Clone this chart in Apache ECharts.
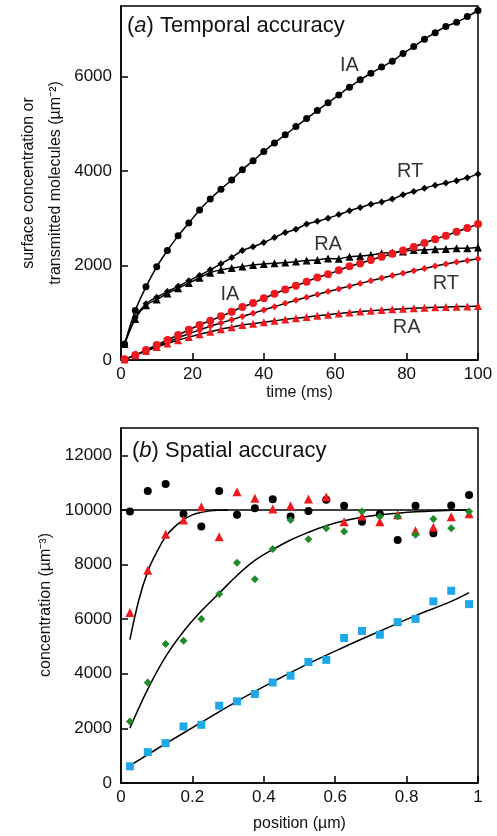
<!DOCTYPE html>
<html><head><meta charset="utf-8">
<script src="https://cdn.jsdelivr.net/npm/echarts@6/dist/echarts.min.js"></script>
<style>html,body{margin:0;padding:0;background:#fff}#c{width:497px;height:836px}</style>
</head><body><div id="c"></div>
<script>
// ---------- Panel (a): temporal accuracy ----------
const timeMs = [1,4,7,10,13,16,19,22,25,28,31,34,37,40,43,46,49,52,55,58,61,64,67,70,73,76,79,82,85,88,91,94,97,100];
const blackIA = [340,1050,1550,1975,2320,2630,2900,3180,3410,3620,3815,4030,4220,4415,4600,4770,4945,5115,5285,5450,5615,5780,5935,6075,6205,6330,6495,6640,6795,6935,7065,7155,7275,7405];
const blackRT = [340,900,1190,1330,1450,1560,1680,1790,1910,2040,2170,2320,2400,2490,2595,2700,2770,2880,2940,3005,3080,3160,3230,3300,3350,3410,3500,3570,3640,3700,3750,3800,3860,3943];
const blackRA = [340,870,1160,1280,1410,1520,1630,1740,1850,1910,1950,1979,2014,2035,2049,2064,2085,2106,2120,2150,2145,2190,2205,2226,2261,2276,2297,2332,2332,2346,2353,2367,2367,2382];
const redIA = [15,106,212,318,424,530,640,742,834,925,1020,1125,1205,1307,1405,1495,1575,1660,1750,1815,1900,1985,2045,2120,2185,2250,2320,2395,2480,2560,2635,2715,2795,2880];
const redRT = [10,100,195,290,380,470,555,635,715,785,855,920,990,1060,1130,1200,1265,1330,1390,1450,1505,1565,1620,1680,1735,1790,1840,1890,1940,1990,2035,2075,2110,2145];
const redRA = [10,100,190,275,350,420,485,545,600,650,695,740,770,800,830,860,885,910,935,960,985,1005,1025,1045,1060,1075,1085,1095,1105,1115,1125,1130,1135,1145];
const curveLabelText = ['IA','RT','RA','IA','RT','RA'];
const curveLabelT = [64,81,58,30.5,91,80];
const curveLabelV = [6230,3990,2440,1380,1630,680];
const yTicksA = [0,2000,4000,6000];
const xTicksA = [0,20,40,60,80,100];

// ---------- Panel (b): spatial accuracy ----------
const positions = [0.025,0.075,0.125,0.175,0.225,0.275,0.325,0.375,0.425,0.475,0.525,0.575,0.625,0.675,0.725,0.775,0.825,0.875,0.925,0.975];
const blackConc = [9940,10695,10950,9850,9390,10695,9820,10060,10390,9755,9960,10370,10150,9570,9850,8900,10150,9150,10160,10550];
const redConc = [6240,7790,9110,9630,10120,9020,10670,10430,10030,10150,10400,10470,9570,9780,9570,9820,9240,9370,9750,9860];
const greenConc = [2250,3680,5090,5210,6010,6920,8070,7460,8570,9630,8930,9330,9210,9940,9760,9760,9090,9670,9330,9940];
const blueConc = [610,1130,1460,2070,2130,2830,2990,3260,3680,3930,4430,4510,5310,5570,5430,5890,6010,6650,7040,6550];
const fitFlatX = [0,0.975];
const fitFlatY = [10000,10000];
const fitRedX = [0.025,0.05,0.075,0.1,0.125,0.15,0.175,0.2,0.225,0.25,0.275,0.3];
const fitRedY = [5250,6700,7750,8450,9020,9380,9640,9820,9910,9965,9990,10000];
const fitGreenY = [2010,3440,4630,5550,6300,6950,7600,8150,8550,8900,9180,9420,9600,9730,9820,9880,9930,9965,9985,10000];
const fitBlueX = [0.025,0.125,0.225,0.325,0.425,0.525,0.625,0.725,0.825,0.925,0.975];
const fitBlueY = [640,1440,2220,2990,3700,4370,4980,5560,6130,6650,6970];

const FONT = '"Liberation Sans", Arial, Helvetica, sans-serif';
const RED = '#ee1a1f', GREEN = '#1f8a2a', BLUE = '#1ea8e8';
function pairs(xs, ys){ return xs.map((x,i)=>[x, ys[i]]); }

const chart = echarts.init(document.getElementById('c'), null, {renderer:'canvas'});

const axisCommon = {
  axisLine:{show:true, lineStyle:{color:'#000', width:1.5}},
  axisTick:{show:true, inside:true, length:7, lineStyle:{color:'#000', width:1.5}},
  splitLine:{show:false},
  axisLabel:{color:'#111', fontSize:17, fontFamily:FONT, formatter:v=>String(v)},
  nameTextStyle:{color:'#111', fontSize:16, fontFamily:FONT}
};

function lineSeries(xi, xs, ys, sym, size, col, z){
  return {type:'line', xAxisIndex:xi, yAxisIndex:xi, data:pairs(xs, ys), smooth:0.3,
    symbol:sym, symbolSize:size, showAllSymbol:true,
    itemStyle:{color:col, opacity:1}, lineStyle:{color:'#000', width:1.5}, z:z, animation:false};
}
function scatterSeries(xs, ys, sym, size, col){
  return {type:'scatter', xAxisIndex:1, yAxisIndex:1, data:pairs(xs, ys), symbol:sym, symbolSize:size,
    itemStyle:{color:col, opacity:1}, z:5, animation:false};
}
function fitSeries(xs, ys){
  return {type:'line', xAxisIndex:1, yAxisIndex:1, data:pairs(xs, ys), smooth:0.4, symbol:'none',
    lineStyle:{color:'#000', width:1.5}, z:3, animation:false};
}

const option = {
  backgroundColor:'#fff',
  animation:false,
  title:[
    {text:'({it|a}) Temporal accuracy', left:127, top:15, padding:0,
     textStyle:{fontSize:22, fontWeight:'normal', color:'#111', fontFamily:FONT,
       rich:{it:{fontStyle:'italic', fontSize:22, color:'#111', fontFamily:FONT}}}},
    {text:'({it|b}) Spatial accuracy', left:132, top:440, padding:0,
     textStyle:{fontSize:22, fontWeight:'normal', color:'#111', fontFamily:FONT,
       rich:{it:{fontStyle:'italic', fontSize:22, color:'#111', fontFamily:FONT}}}}
  ],
  graphic:[
    {type:'text', x:42, y:183, rotation:Math.PI/2, z:10,
     style:{text:'surface concentration or\ntransmitted molecules (µm⁻²)', align:'center', verticalAlign:'middle',
       fontSize:16, lineHeight:27, fontFamily:FONT, fill:'#111'}},
    {type:'text', x:46, y:605, rotation:Math.PI/2, z:10,
     style:{text:'concentration (µm⁻³)', align:'center', verticalAlign:'middle',
       fontSize:16, fontFamily:FONT, fill:'#111'}}
  ],
  grid:[
    {left:121, top:6, width:357, height:354, show:true, borderColor:'#000', borderWidth:1.5, containLabel:false},
    {left:121, top:428, width:357, height:355, show:true, borderColor:'#000', borderWidth:1.5, containLabel:false}
  ],
  xAxis:[
    Object.assign({}, axisCommon, {type:'value', gridIndex:0, min:xTicksA[0], max:xTicksA[xTicksA.length-1], interval:20,
      name:'time (ms)', nameLocation:'middle', nameGap:25,
      axisLabel:Object.assign({}, axisCommon.axisLabel, {margin:6})}),
    Object.assign({}, axisCommon, {type:'value', gridIndex:1, min:0, max:1, interval:0.2,
      name:'position (µm)', nameLocation:'middle', nameGap:33,
      axisLabel:Object.assign({}, axisCommon.axisLabel, {margin:6})})
  ],
  yAxis:[
    Object.assign({}, axisCommon, {type:'value', gridIndex:0, min:yTicksA[0], max:7500, interval:2000,
      axisLabel:Object.assign({}, axisCommon.axisLabel, {margin:9, showMaxLabel:false})}),
    Object.assign({}, axisCommon, {type:'value', gridIndex:1, min:0, max:13000, interval:2000,
      axisLabel:Object.assign({}, axisCommon.axisLabel, {margin:9, showMaxLabel:false})})
  ],
  series:[
    lineSeries(0, timeMs, blackIA, 'circle', 7, '#000', 4),
    lineSeries(0, timeMs, blackRT, 'diamond', 7, '#000', 4),
    lineSeries(0, timeMs, blackRA, 'triangle', 8, '#000', 4),
    lineSeries(0, timeMs, redIA, 'circle', 8, RED, 6),
    lineSeries(0, timeMs, redRT, 'diamond', 7, RED, 6),
    lineSeries(0, timeMs, redRA, 'triangle', 8, RED, 6),
    {type:'scatter', xAxisIndex:0, yAxisIndex:0, symbolSize:1, itemStyle:{color:'rgba(0,0,0,0)'}, z:8,
     data:curveLabelText.map((t,i)=>({name:t, value:[curveLabelT[i], curveLabelV[i]]})),
     label:{show:true, position:'inside', formatter:p=>p.name, fontSize:20, color:'#000', fontFamily:FONT},
     animation:false},
    fitSeries(fitFlatX, fitFlatY),
    fitSeries(fitRedX, fitRedY),
    fitSeries(positions, fitGreenY),
    fitSeries(fitBlueX, fitBlueY),
    scatterSeries(positions, blackConc, 'circle', 8, '#000'),
    scatterSeries(positions, redConc, 'triangle', 9, RED),
    scatterSeries(positions, greenConc, 'diamond', 8, GREEN),
    scatterSeries(positions, blueConc, 'rect', 8, BLUE)
  ]
};
chart.setOption(option);
</script>
</body></html>
